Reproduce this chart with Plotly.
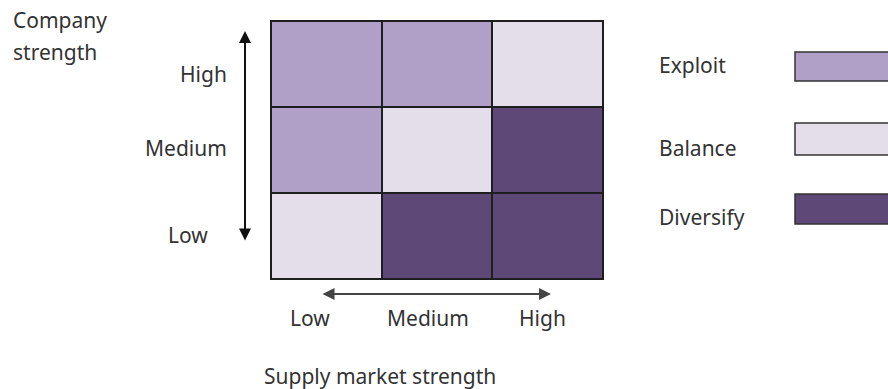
import plotly.graph_objects as go

# ---- data ----
supply_levels = ["Low", "Medium", "High"]          # x categories (supply market strength)
company_levels = ["Low", "Medium", "High"]         # y categories (company strength), bottom -> top
strategies = ["Exploit", "Balance", "Diversify"]
strategy_colors = ["#B09FC6", "#E4DEEA", "#5E4878"]
# matrix rows follow company_levels (Low, Medium, High); columns follow supply_levels
matrix = [
    ["Balance", "Diversify", "Diversify"],   # company Low
    ["Exploit", "Balance", "Diversify"],     # company Medium
    ["Exploit", "Exploit", "Balance"],       # company High
]

z = [[strategies.index(s) for s in row] for row in matrix]
n = len(strategies)
colorscale = []
for i, c in enumerate(strategy_colors):
    colorscale.append([i / n, c])
    colorscale.append([(i + 1) / n, c])

W, H = 888, 389
FONT = "Noto Sans"
TXT = "#333333"

def px(x):
    return x / W

def py(y):
    return 1 - y / H

fig = go.Figure(go.Heatmap(
    x=supply_levels, y=company_levels, z=z,
    zmin=-0.5, zmax=n - 0.5, colorscale=colorscale, showscale=False,
    xgap=2, ygap=2, hoverinfo="skip",
))

fig.update_layout(
    width=W, height=H, margin=dict(l=0, r=0, t=0, b=0),
    paper_bgcolor="white", plot_bgcolor="#1e1e1e",
    font=dict(family=FONT, size=21, color=TXT),
    xaxis=dict(domain=[px(271), px(603)], showticklabels=False, ticks="",
               showgrid=False, zeroline=False, showline=True, mirror=True,
               linecolor="#1e1e1e", linewidth=1.2, fixedrange=True),
    yaxis=dict(domain=[py(279), py(21)], showticklabels=False, ticks="",
               showgrid=False, zeroline=False, showline=True, mirror=True,
               linecolor="#1e1e1e", linewidth=1.2, fixedrange=True),
    showlegend=False,
)

ann = []
# y-axis category labels
y_label_x = {"High": 203, "Medium": 186, "Low": 188}
y_label_shift = {"High": -10, "Medium": 2, "Low": 1}
for lvl in company_levels:
    ann.append(dict(x=px(y_label_x[lvl]), xref="paper", y=lvl, yref="y",
                    text=lvl, showarrow=False, xanchor="center",
                    yshift=y_label_shift[lvl]))
# x-axis category labels
x_label_shift = {"Low": -16, "Medium": -9, "High": -5}
for lvl in supply_levels:
    ann.append(dict(x=lvl, xref="x", y=py(318), yref="paper",
                    text=lvl, showarrow=False, yanchor="middle",
                    xshift=x_label_shift[lvl]))
# axis titles
ann.append(dict(x=px(11), y=py(20), xref="paper", yref="paper", text="Company",
                showarrow=False, xanchor="left", yanchor="middle"))
ann.append(dict(x=px(11), y=py(52), xref="paper", yref="paper", text="strength",
                showarrow=False, xanchor="left", yanchor="middle"))
ann.append(dict(x=px(380), y=py(376), xref="paper", yref="paper", text="Supply market strength",
                showarrow=False, xanchor="center", yanchor="middle"))
# arrows
ann.append(dict(x=px(245), y=py(31), xref="paper", yref="paper", text="",
                showarrow=True, ax=0, ay=211, arrowside="end+start",
                arrowhead=2, arrowsize=1.2, arrowwidth=2, arrowcolor="#111111"))
ann.append(dict(x=px(551), y=py(294), xref="paper", yref="paper", text="",
                showarrow=True, ax=-230, ay=0, arrowside="end+start",
                arrowhead=2, arrowsize=1.2, arrowwidth=2, arrowcolor="#444444"))

# legend
legend_text_y = [65, 148, 217]
legend_box_y = [(52, 81), (123, 155), (194, 224)]
shapes = []
for s, c, ty, (y0, y1) in zip(strategies, strategy_colors, legend_text_y, legend_box_y):
    ann.append(dict(x=px(657), y=py(ty), xref="paper", yref="paper", text=s,
                    showarrow=False, xanchor="left", yanchor="middle"))
    shapes.append(dict(type="rect", xref="paper", yref="paper",
                       x0=px(795), x1=px(900), y0=py(y1), y1=py(y0),
                       fillcolor=c, line=dict(color="#333333", width=1.5)))

fig.update_layout(annotations=ann, shapes=shapes)
fig.write_html("out.html")
